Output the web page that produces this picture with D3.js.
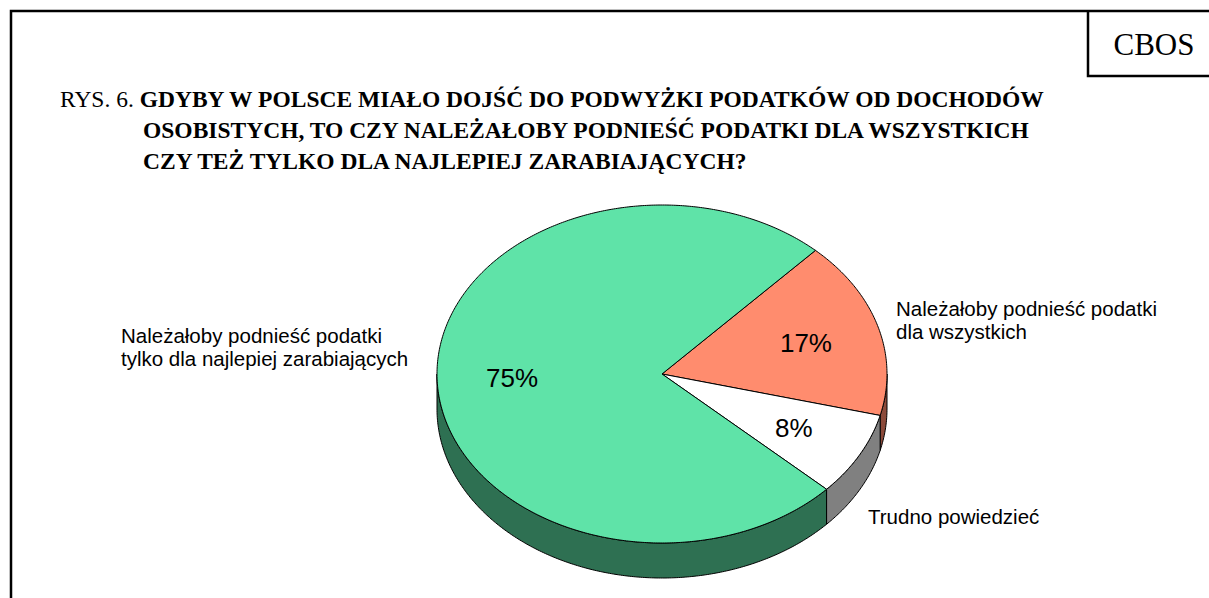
<!DOCTYPE html>
<html><head><meta charset="utf-8">
<script src="https://cdn.jsdelivr.net/npm/d3@7"></script>
<style>html,body{margin:0;padding:0;background:#fff;}svg{display:block;}</style>
</head><body>
<script>
// ---- data ----
const categories = ["Należałoby podnieść podatki dla wszystkich", "Trudno powiedzieć", "Należałoby podnieść podatki tylko dla najlepiej zarabiających"];
const values = [17, 8, 75];
const valueLabels = ["17%", "8%", "75%"];
const outerLabelLines = [
  ["Należałoby podnieść podatki", "dla wszystkich"],
  ["Trudno powiedzieć"],
  ["Należałoby podnieść podatki", "tylko dla najlepiej zarabiających"]
];
const titlePrefix = "RYS. 6. ";
const titleLines = [
  "GDYBY W POLSCE MIAŁO DOJŚĆ DO PODWYŻKI PODATKÓW OD DOCHODÓW",
  "OSOBISTYCH, TO CZY NALEŻAŁOBY PODNIEŚĆ PODATKI DLA WSZYSTKICH",
  "CZY TEŻ TYLKO DLA NAJLEPIEJ ZARABIAJĄCYCH?"
];
const sourceLabel = "CBOS";

// ---- styles / layout ----
const W = 1209, H = 598;
const topColors = ["#FF8C6E", "#FFFFFF", "#5FE3A8"];
const sideColors = ["#8C4A3A", "#808080", "#2E7052"];
const outerPos = [[896, 316], [868, 524], [121, 343]];
const cx = 662, cy = 374, rx = 225, ry = 169, depth = 35;

const svg = d3.select("body").append("svg").attr("width", W).attr("height", H);

// frame
svg.append("path").attr("d", `M11,${H} L11,11 L${W},11`).attr("fill","none").attr("stroke","#000").attr("stroke-width",2.5);
svg.append("path").attr("d", `M1088,11 L1088,76 L${W},76`).attr("fill","none").attr("stroke","#000").attr("stroke-width",2.5);
svg.append("text").attr("x",1154).attr("y",55).attr("text-anchor","middle")
  .attr("font-family","'Liberation Serif','Times New Roman',serif").attr("font-size",31).text(sourceLabel);

// title
const tf = "'Liberation Serif','Times New Roman',serif";
const tfs = 23.5;
const t1 = svg.append("text").attr("x",60).attr("y",107).attr("font-family",tf).attr("font-size",tfs);
t1.append("tspan").text(titlePrefix);
t1.append("tspan").attr("font-weight","bold").text(titleLines[0]);
titleLines.slice(1).forEach((l,i)=>{
  svg.append("text").attr("x",143).attr("y",138+31*i).attr("font-family",tf).attr("font-size",tfs).attr("font-weight","bold").text(l);
});

// pie
const start = 43*Math.PI/180;
const pie = d3.pie().sort(null).startAngle(start).endAngle(start+2*Math.PI);
const arcs = pie(values);
const px = a => cx + rx*Math.sin(a);
const py = a => cy - ry*Math.cos(a);
function samples(a0,a1){const n=Math.max(2,Math.ceil(Math.abs(a1-a0)/0.01));return d3.range(n+1).map(i=>a0+(a1-a0)*i/n);}
const line = d3.line();

// sides
const g = svg.append("g");
arcs.forEach((d,i)=>{
  const lo = Math.max(d.startAngle, Math.PI/2), hi = Math.min(d.endAngle, 3*Math.PI/2);
  if (hi <= lo) return;
  const s = samples(lo,hi);
  const pts = s.map(a=>[px(a),py(a)]).concat(s.slice().reverse().map(a=>[px(a),py(a)+depth]));
  g.append("path").attr("d", line(pts)+"Z").attr("fill",sideColors[i]).attr("stroke","#000").attr("stroke-width",1).attr("stroke-linejoin","round");
});
// tops
arcs.forEach((d,i)=>{
  const s = samples(d.startAngle,d.endAngle);
  const pts = [[cx,cy]].concat(s.map(a=>[px(a),py(a)]));
  g.append("path").attr("d", line(pts)+"Z").attr("fill",topColors[i]).attr("stroke","#000").attr("stroke-width",1).attr("stroke-linejoin","round");
});
// value labels
const af = "'Liberation Sans',Arial,sans-serif";
arcs.forEach((d,i)=>{
  const m = (d.startAngle+d.endAngle)/2, k = 0.667;
  g.append("text").attr("x", cx + rx*k*Math.sin(m)).attr("y", cy - ry*k*Math.cos(m)).attr("dy","0.36em")
    .attr("text-anchor","middle").attr("font-family",af).attr("font-size",26).text(valueLabels[i]);
});
// outer labels
outerLabelLines.forEach((lines,i)=>{
  const t = svg.append("text").attr("x",outerPos[i][0]).attr("y",outerPos[i][1]).attr("font-family",af).attr("font-size",20.5);
  lines.forEach((l,j)=>t.append("tspan").attr("x",outerPos[i][0]).attr("dy", j===0?0:23).text(l));
});
</script>
</body></html>
